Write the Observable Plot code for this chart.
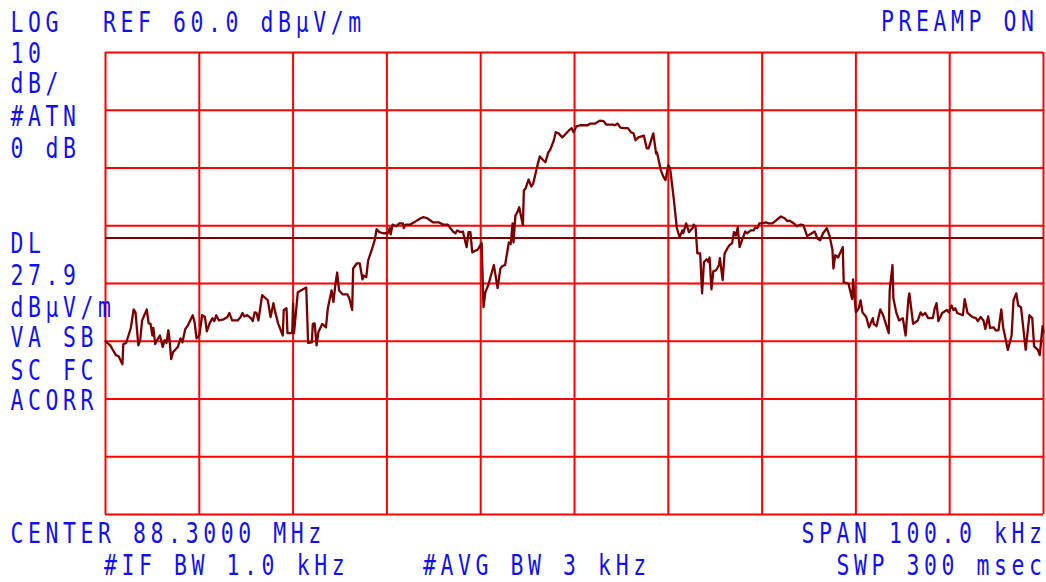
<!DOCTYPE html>
<html><head><meta charset="utf-8">
<script src="https://cdn.jsdelivr.net/npm/d3@7"></script>
<script src="https://cdn.jsdelivr.net/npm/@observablehq/plot@0.6"></script>
<style>
html,body{margin:0;padding:0;background:#fff;}
#wrap{position:relative;width:1046px;height:582px;overflow:hidden;background:#fff;}
#wrap svg{position:absolute;left:0;top:0;}
</style></head><body><div id="wrap"></div>
<script>
// Spectrum analyzer screen: centre 88.3000 MHz, span 100 kHz, ref 60 dBµV/m, 10 dB/div
const centerMHz = 88.3;
const refLevelDb = 60;
const dbPerDiv = 10;
const displayLineDb = 27.9;
const xGridKHz = [-50, -40, -30, -20, -10, 0, 10, 20, 30, 40, 50];
const yGridDb = [60, 50, 40, 30, 20, 10, 0, -10, -20];

// trace: frequency offset from centre (kHz) and level (dBµV/m)
const freqOffsetKHz = [
-50.0,-49.5,-48.9,-48.6,-48.2,-48.1,-47.8,-47.3,-47.0,-46.8,-46.5,-46.3,-46.1,-45.6,-45.4,-45.2,-45.0,-44.9,-44.7,-44.5,
-44.2,-43.9,-43.7,-43.5,-43.3,-43.2,-43.0,-42.8,-42.3,-42.0,-41.8,-41.5,-41.2,-40.7,-40.5,-40.3,-40.0,-39.7,-39.4,-39.2,
-38.9,-38.6,-38.4,-38.2,-37.9,-37.4,-37.0,-36.8,-36.5,-35.9,-35.6,-35.4,-35.2,-34.9,-34.5,-34.3,-34.1,-33.9,-33.7,-33.3,
-32.9,-32.7,-32.4,-32.1,-31.9,-31.6,-31.1,-31.0,-30.7,-30.6,-30.1,-30.0,-29.9,-29.5,-28.6,-28.4,-28.0,-27.9,-27.7,-27.5,
-27.3,-26.9,-26.5,-26.3,-25.9,-25.7,-25.5,-25.3,-25.1,-24.7,-24.2,-24.0,-23.7,-23.6,-23.2,-22.9,-22.6,-22.5,-22.2,-22.0,
-21.6,-21.3,-21.1,-20.8,-20.4,-19.9,-19.7,-19.6,-19.4,-19.0,-18.7,-18.3,-18.2,-18.0,-17.5,-16.9,-16.4,-16.1,-15.7,-15.1,
-14.5,-14.0,-13.5,-13.3,-12.9,-12.7,-12.5,-12.2,-11.9,-11.8,-11.5,-11.3,-11.1,-10.9,-10.3,-9.9,-9.7,-9.5,-9.2,-8.6,
-8.2,-7.9,-7.7,-7.4,-7.0,-6.8,-6.6,-6.5,-6.3,-6.1,-5.9,-5.5,-5.4,-5.2,-4.9,-4.6,-4.4,-3.9,-3.7,-3.3,
-3.1,-2.8,-2.6,-2.2,-2.0,-1.7,-1.3,-1.0,-0.6,-0.3,-0.1,0.2,0.6,1.4,1.7,2.2,2.7,3.1,3.4,4.1,
4.3,4.6,4.9,5.2,5.7,6.0,6.3,6.5,6.8,7.4,7.7,7.9,8.4,8.7,8.8,9.2,9.5,9.7,10.0,10.2,
10.6,10.9,11.2,11.5,11.6,11.9,12.2,12.6,12.7,12.9,13.1,13.4,13.6,13.8,14.1,14.3,14.4,14.6,14.8,15.1,
15.4,15.5,15.8,16.0,16.3,16.5,16.8,17.0,17.2,17.4,17.6,17.9,18.2,18.4,18.8,19.1,19.3,19.5,19.7,20.0,
20.4,20.7,21.1,21.4,22.0,22.4,22.7,22.9,23.4,23.7,24.1,24.4,24.8,25.3,25.6,25.9,26.2,26.5,26.9,27.2,
27.4,27.5,27.6,27.8,28.1,28.6,28.7,29.2,29.6,29.7,30.0,30.3,30.5,30.7,31.1,31.4,31.8,31.9,32.2,32.6,
32.9,33.5,33.6,33.9,34.0,34.3,34.6,35.0,35.3,35.6,35.7,36.1,36.6,36.9,37.1,37.4,37.7,38.2,38.4,38.6,
38.8,39.2,39.7,39.9,40.2,40.4,40.6,40.8,41.4,41.6,41.9,42.4,42.8,43.0,43.3,43.6,43.8,44.1,44.3,44.7,
44.9,45.2,45.5,45.7,46.2,46.6,46.8,47.1,47.3,47.6,48.1,48.5,48.8,49.0,49.4,49.6,49.9,50.0
];
const levelDbuVm = [
10.0,9.3,7.6,7.4,6.0,9.5,9.7,12.3,15.5,15.0,9.3,10.2,13.6,15.5,13.1,13.0,11.0,12.3,9.5,10.2,
11.0,9.0,10.2,9.7,11.9,10.7,6.9,8.1,9.0,10.5,9.8,12.1,12.8,14.5,13.3,10.5,11.0,14.5,14.2,11.7,
13.1,14.0,13.5,14.5,13.6,13.8,14.2,14.9,13.6,13.6,14.2,14.9,14.3,14.5,14.0,13.5,15.0,14.9,13.6,18.0,
17.4,17.1,14.2,16.6,15.0,13.1,11.0,15.4,15.7,11.4,11.4,16.6,11.4,18.5,19.3,9.7,9.8,13.0,13.1,9.3,
11.6,13.0,12.4,15.7,18.8,16.8,19.7,21.9,18.8,18.1,18.1,17.4,15.4,22.6,23.5,23.5,20.7,21.4,21.1,24.0,
25.9,27.5,29.4,28.9,28.7,28.7,29.6,28.5,30.2,29.9,30.4,30.4,29.6,30.2,30.2,30.8,31.3,31.5,31.3,30.6,
30.6,30.2,30.2,29.7,28.9,28.7,29.2,28.9,29.0,28.3,26.3,28.9,28.9,25.4,25.9,27.0,15.9,18.5,19.7,23.2,
19.2,22.6,23.0,23.2,27.1,26.8,30.4,27.1,31.8,32.3,33.2,30.1,36.1,36.5,38.0,36.8,37.3,40.8,42.0,41.3,
41.0,42.7,43.1,44.8,46.2,46.0,45.3,45.8,46.5,46.9,46.2,47.2,47.4,47.4,47.7,47.7,48.2,48.1,47.5,47.5,
47.4,47.7,47.0,46.9,46.9,46.2,46.0,44.8,45.3,45.6,43.4,43.4,46.0,42.5,42.7,39.6,38.4,37.9,40.5,39.9,
34.4,29.7,28.0,29.2,28.7,30.4,28.9,29.6,30.2,29.9,25.2,25.2,18.3,23.7,24.2,23.7,24.5,19.0,22.1,22.3,
23.2,24.4,20.6,25.2,26.1,26.6,27.0,28.9,28.3,29.7,26.3,27.7,29.0,28.7,29.2,29.2,29.7,29.6,30.4,30.4,
30.6,30.4,30.4,30.8,31.6,31.3,30.8,30.9,30.4,29.9,30.2,30.1,28.2,28.7,29.0,27.8,27.5,28.7,29.6,28.2,
26.6,25.8,22.6,24.9,24.5,26.3,20.2,20.0,17.3,20.7,15.0,15.7,17.1,15.0,14.2,12.4,14.0,13.0,12.6,15.5,
14.5,11.4,18.8,23.2,17.4,15.0,13.6,14.0,11.0,17.4,18.3,13.0,13.6,15.0,14.5,14.9,14.0,14.0,15.7,16.6,
13.5,14.9,15.4,15.0,16.2,15.4,15.7,14.9,14.5,17.3,14.9,14.2,14.0,13.5,14.2,13.6,12.1,14.3,12.3,12.4,
11.9,11.9,15.5,12.4,8.5,11.0,17.1,18.3,16.2,15.9,8.5,14.5,14.0,9.1,8.5,7.6,12.6,11.6
];

// annotation texts
const topLeftLabels = ["LOG", "10", "dB/", "#ATN", "0 dB"];
const midLeftLabels = ["DL", "27.9", "dBµV/m", "VA SB", "SC FC", "ACORR"];
const refLabel = "REF 60.0 dBµV/m";
const preampLabel = "PREAMP ON";
const centerLabel = "CENTER 88.3000 MHz";
const spanLabel = "SPAN 100.0 kHz";
const ifbwLabel = "#IF BW 1.0 kHz";
const avgbwLabel = "#AVG BW 3 kHz";
const sweepLabel = "SWP 300 msec";

const trace = freqOffsetKHz.map((f, i) => ({f, level: levelDbuVm[i]}));

const W = 1046, H = 582;
const chart = Plot.plot({
  width: W, height: H,
  marginLeft: 105, marginRight: 3, marginTop: 52, marginBottom: 68,
  x: {domain: [-50, 50], axis: null},
  y: {domain: [refLevelDb - 8 * dbPerDiv, refLevelDb], axis: null},
  style: {background: "transparent"},
  marks: [
    Plot.ruleX(xGridKHz, {stroke: "#ff0000", strokeWidth: 2}),
    Plot.ruleY(yGridDb, {stroke: "#ff0000", strokeWidth: 2}),
    Plot.ruleY([displayLineDb], {stroke: "#7a0000", strokeWidth: 2}),
    Plot.line(trace, {x: "f", y: "level", stroke: "#7a0000", strokeWidth: 2.3, strokeLinejoin: "round"})
  ]
});
const wrap = document.getElementById("wrap");
wrap.appendChild(chart);

// text overlay (condensed monospace, like the instrument's stroke font)
const SX = 0.78, LS = 5.9;
const svg = d3.select(wrap).append("svg").attr("width", W).attr("height", H);
const g = svg.append("g").attr("transform", `scale(${SX},1)`)
  .style("font-family", "'DejaVu Sans Mono', monospace")
  .style("font-size", "27.5px")
  .style("letter-spacing", LS + "px")
  .attr("fill", "#1010f0");
function txt(s, x, y, anchor) {
  const lx = anchor === "end" ? (x / SX + LS) : x / SX;
  g.append("text").attr("x", lx).attr("y", y).attr("text-anchor", anchor || "start")
    .attr("xml:space", "preserve").style("white-space", "pre").text(s);
}
const topBase = [32, 63, 93, 126, 158];
topLeftLabels.forEach((s, i) => txt(s, 10.5, topBase[i]));
const midBase = [253, 285, 317, 347, 380, 410];
midLeftLabels.forEach((s, i) => txt(s, 10.5, midBase[i]));
txt(refLabel, 103, 32);
txt(preampLabel, 1034, 31, "end");
txt(centerLabel, 10.5, 543);
txt(spanLabel, 1042, 543, "end");
txt(ifbwLabel, 104, 575);
txt(avgbwLabel, 423, 575);
txt(sweepLabel, 1042, 575, "end");
</script>
</body></html>
